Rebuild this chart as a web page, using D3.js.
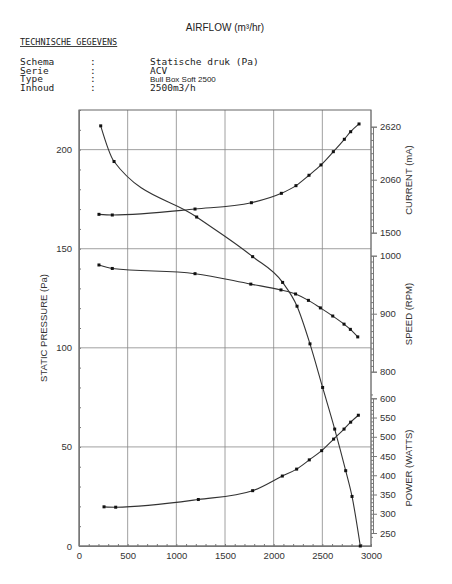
<!DOCTYPE html>
<html><head><meta charset="utf-8">
<script src="https://cdn.jsdelivr.net/npm/d3@7"></script>
<style>body{margin:0;background:#fff}</style></head>
<body><svg width="452" height="584"></svg>
<script>
// airflow (m3/hr) per curve
const pressFlow = [223, 360, 1209, 1784, 2092, 2240, 2373, 2503, 2627, 2740, 2805, 2890];
const pressVal  = [212, 194, 166, 146, 133, 121, 102, 80, 59, 38, 25, 0];
const curFlow = [205, 342, 1192, 1771, 2079, 2229, 2363, 2486, 2613, 2726, 2791, 2877];
const curVal  = [1694, 1687, 1750, 1817, 1916, 1997, 2107, 2216, 2356, 2487, 2567, 2649];
const spdFlow = [205, 342, 1192, 1765, 2075, 2225, 2357, 2480, 2607, 2723, 2788, 2864];
const spdVal  = [984, 978, 969, 951, 941, 934, 923, 910, 896, 882, 873, 860];
const powFlow = [257, 377, 1226, 1784, 2089, 2236, 2366, 2493, 2616, 2723, 2791, 2870];
const powVal  = [318, 317, 337, 360, 398, 416, 440, 464, 494, 520, 538, 556];
const xTicks = [0, 500, 1000, 1500, 2000, 2500, 3000];
const yTicks = [0, 50, 100, 150, 200];
const curTicks = [1500, 2060, 2620];
const spdTicks = [800, 900, 1000];
const powTicks = [250, 300, 350, 400, 450, 500, 550, 600];

const svg = d3.select('svg');
const L = 79, R = 371, T = 110, B = 546;
const font = 'Liberation Sans, Arial, sans-serif';
const fmt = d3.format('d');

const x = d3.scaleLinear().domain([0, 3000]).range([L, R]);
const y = d3.scaleLinear().domain([0, 220]).range([B, T]);
const yCur = d3.scaleLinear().domain([1500, 2620]).range([232.7, 126.7]);
const ySpd = d3.scaleLinear().domain([800, 1000]).range([371.7, 255.7]);
const yPow = d3.scaleLinear().domain([250, 600]).range([533, 398.3]);

// header
const hd = svg.append('g').attr('font-family', 'DejaVu Sans Mono, monospace').attr('font-size', 9.5).attr('fill', '#222');
hd.append('text').attr('x', 225).attr('y', 31).attr('text-anchor', 'middle')
  .attr('font-family', font).attr('font-size', 10).text('AIRFLOW (m³/hr)');
hd.append('text').attr('x', 20).attr('y', 45).attr('font-size', 8.5).attr('text-decoration', 'underline').text('TECHNISCHE GEGEVENS');
const rows = [['Schema', 'Statische druk (Pa)'], ['Serie', 'ACV'], ['Type', 'Bull Box Soft 2500'], ['Inhoud', '2500m3/h']];
rows.forEach((r, i) => {
  const yy = 65 + i * 8.7;
  hd.append('text').attr('x', 20).attr('y', yy).text(r[0]);
  hd.append('text').attr('x', 90).attr('y', yy).text(':');
  const t = hd.append('text').attr('x', 150).attr('y', yy).text(r[1]);
  if (i === 2) t.attr('font-family', font).attr('font-size', 8);
});

// grid
const g = svg.append('g').attr('stroke', '#888').attr('stroke-width', 0.8);
xTicks.forEach(v => g.append('line').attr('x1', x(v)).attr('x2', x(v)).attr('y1', T).attr('y2', B));
yTicks.forEach(v => g.append('line').attr('x1', L).attr('x2', R).attr('y1', y(v)).attr('y2', y(v)));
svg.append('rect').attr('x', L).attr('y', T).attr('width', R - L).attr('height', B - T)
  .attr('fill', 'none').attr('stroke', '#666');

// axes
svg.append('g').attr('transform', `translate(0,${B})`)
  .call(d3.axisBottom(x).tickValues(xTicks).tickSize(0).tickPadding(6).tickFormat(fmt));
svg.append('g').attr('transform', `translate(${L},0)`)
  .call(d3.axisLeft(y).tickValues(yTicks).tickSize(0).tickPadding(7).tickFormat(fmt));
// minor ticks
svg.append('g').attr('transform', `translate(0,${B})`)
  .call(d3.axisTop(x).tickValues(d3.range(0, 3001, 100)).tickSize(2).tickFormat(''));
svg.append('g').attr('transform', `translate(${L},0)`)
  .call(d3.axisRight(y).tickValues(d3.range(0, 221, 10)).tickSize(2).tickFormat(''));

function rightAxis(sc, ticks, step, lo, hi, label, ly) {
  const a = svg.append('g').attr('transform', `translate(${R + 2},0)`);
  a.call(d3.axisRight(sc).tickValues(ticks).tickSize(4).tickPadding(3).tickFormat(fmt));
  a.append('g').call(d3.axisLeft(sc).tickValues(d3.range(lo, hi + 0.1, step)).tickSize(2).tickFormat(''));
  svg.append('text').attr('transform', `translate(412,${ly}) rotate(-90)`).attr('text-anchor', 'middle')
    .attr('font-family', font).attr('font-size', 9.5).attr('fill', '#333').text(label);
}
rightAxis(yCur, curTicks, 70, 1500, 2620, 'CURRENT (mA)', 180);
rightAxis(ySpd, spdTicks, 10, 800, 1000, 'SPEED (RPM)', 314);
rightAxis(yPow, powTicks, 10, 240, 610, 'POWER (WATTS)', 468);

svg.selectAll('.domain, .tick line').attr('stroke', '#777');
svg.selectAll('.tick text').attr('font-family', font).attr('font-size', 9.5).attr('fill', '#333');

// curves
function curve(fx, fy, sc) {
  const pts = fx.map((v, i) => [v, fy[i]]);
  const line = d3.line().x(d => x(d[0])).y(d => sc(d[1])).curve(d3.curveMonotoneX);
  svg.append('path').attr('d', line(pts)).attr('fill', 'none').attr('stroke', '#333').attr('stroke-width', 1.1);
  svg.append('g').selectAll('rect').data(pts).join('rect')
    .attr('x', d => x(d[0]) - 1.5).attr('y', d => sc(d[1]) - 1.5)
    .attr('width', 3).attr('height', 3).attr('fill', '#111');
}
curve(pressFlow, pressVal, y);
curve(curFlow, curVal, yCur);
curve(spdFlow, spdVal, ySpd);
curve(powFlow, powVal, yPow);

svg.append('text').attr('transform', `translate(47,${(T + B) / 2}) rotate(-90)`).attr('text-anchor', 'middle')
  .attr('font-family', font).attr('font-size', 9.5).attr('fill', '#333').text('STATIC PRESSURE (Pa)');
</script></body></html>
